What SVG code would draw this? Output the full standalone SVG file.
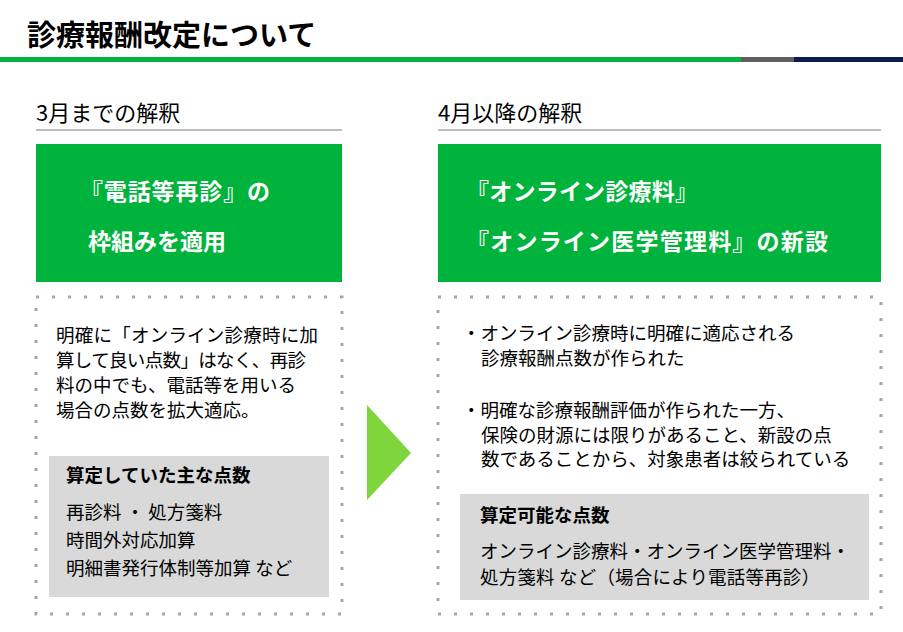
<svg xmlns="http://www.w3.org/2000/svg" width="903" height="632" viewBox="0 0 903 632">
<style>
text{font-family:"Noto Sans CJK JP","Noto Sans",sans-serif;fill:#000}
.h{font-size:22px}
.w{fill:#fff;font-size:23px;font-weight:bold}
.b{font-size:18.5px}
.bb{font-size:18.5px;font-weight:bold}
.dot{fill:none;stroke:#a6a6a6;stroke-width:3;stroke-dasharray:3 13}
.g{fill:#00b33c}
.gray{fill:#d9d9d9}
</style>
<rect width="903" height="632" fill="#fff"/>
<g id="header">
<text x="27" y="46" style="font-size:29px;font-weight:bold">診療報酬改定について</text>
<rect x="0" y="57" width="741" height="5" fill="#00b33c"/>
<rect x="741" y="57" width="53" height="5" fill="#5f5f5f"/>
<rect x="794" y="57" width="109" height="5" fill="#0b1a4f"/>
</g>
<g id="left-heading">
<text class="h" x="36" y="121">3月までの解釈</text>
<line x1="36" y1="130" x2="342" y2="130" stroke="#a6a6a6" stroke-width="1.5"/>
</g>
<g id="right-heading">
<text class="h" x="438" y="121">4月以降の解釈</text>
<line x1="438" y1="130" x2="881" y2="130" stroke="#a6a6a6" stroke-width="1.5"/>
</g>
<g id="left-green">
<rect class="g" x="36" y="144" width="306" height="138"/>
<text class="w" x="80" y="200" textLength="190">『電話等再診』の</text>
<text class="w" x="88" y="250">枠組みを適用</text>
</g>
<g id="right-green">
<rect class="g" x="438" y="144" width="443" height="138"/>
<text class="w" x="466" y="200" textLength="232">『オンライン診療料』</text>
<text class="w" x="466" y="250" textLength="362">『オンライン医学管理料』の新設</text>
</g>
<g id="left-box">
<rect class="dot" x="36" y="297" width="306" height="317"/>
<text class="b" x="56" y="342" textLength="262">明確に「オンライン診療時に加</text>
<text class="b" x="56" y="367" textLength="250">算して良い点数」はなく、再診</text>
<text class="b" x="56" y="392">料の中でも、電話等を用いる</text>
<text class="b" x="56" y="417">場合の点数を拡大適応。</text>
<rect class="gray" x="49" y="456" width="280" height="141"/>
<text class="bb" x="66" y="482">算定していた主な点数</text>
<text class="b" x="66" y="519">再診料 ・ 処方箋料</text>
<text class="b" x="66" y="547">時間外対応加算</text>
<text class="b" x="66" y="575">明細書発行体制等加算 など</text>
</g>
<g id="connectors">
<polygon points="367,405 367,500 411,453" fill="#7ed63c"/>
</g>
<g id="right-box">
<rect class="dot" x="438" y="297" width="443" height="317"/>
<text class="b" x="462" y="340">・オンライン診療時に明確に適応される</text>
<text class="b" x="481" y="365">診療報酬点数が作られた</text>
<text class="b" x="462" y="417">・明確な診療報酬評価が作られた一方、</text>
<text class="b" x="481" y="442">保険の財源には限りがあること、新設の点</text>
<text class="b" x="481" y="466">数であることから、対象患者は絞られている</text>
<rect class="gray" x="460" y="494" width="409" height="106"/>
<text class="bb" x="480" y="522">算定可能な点数</text>
<text class="b" x="480" y="558">オンライン診療料・オンライン医学管理料・</text>
<text class="b" x="480" y="584" textLength="340">処方箋料 など（場合により電話等再診）</text>
</g>
</svg>
